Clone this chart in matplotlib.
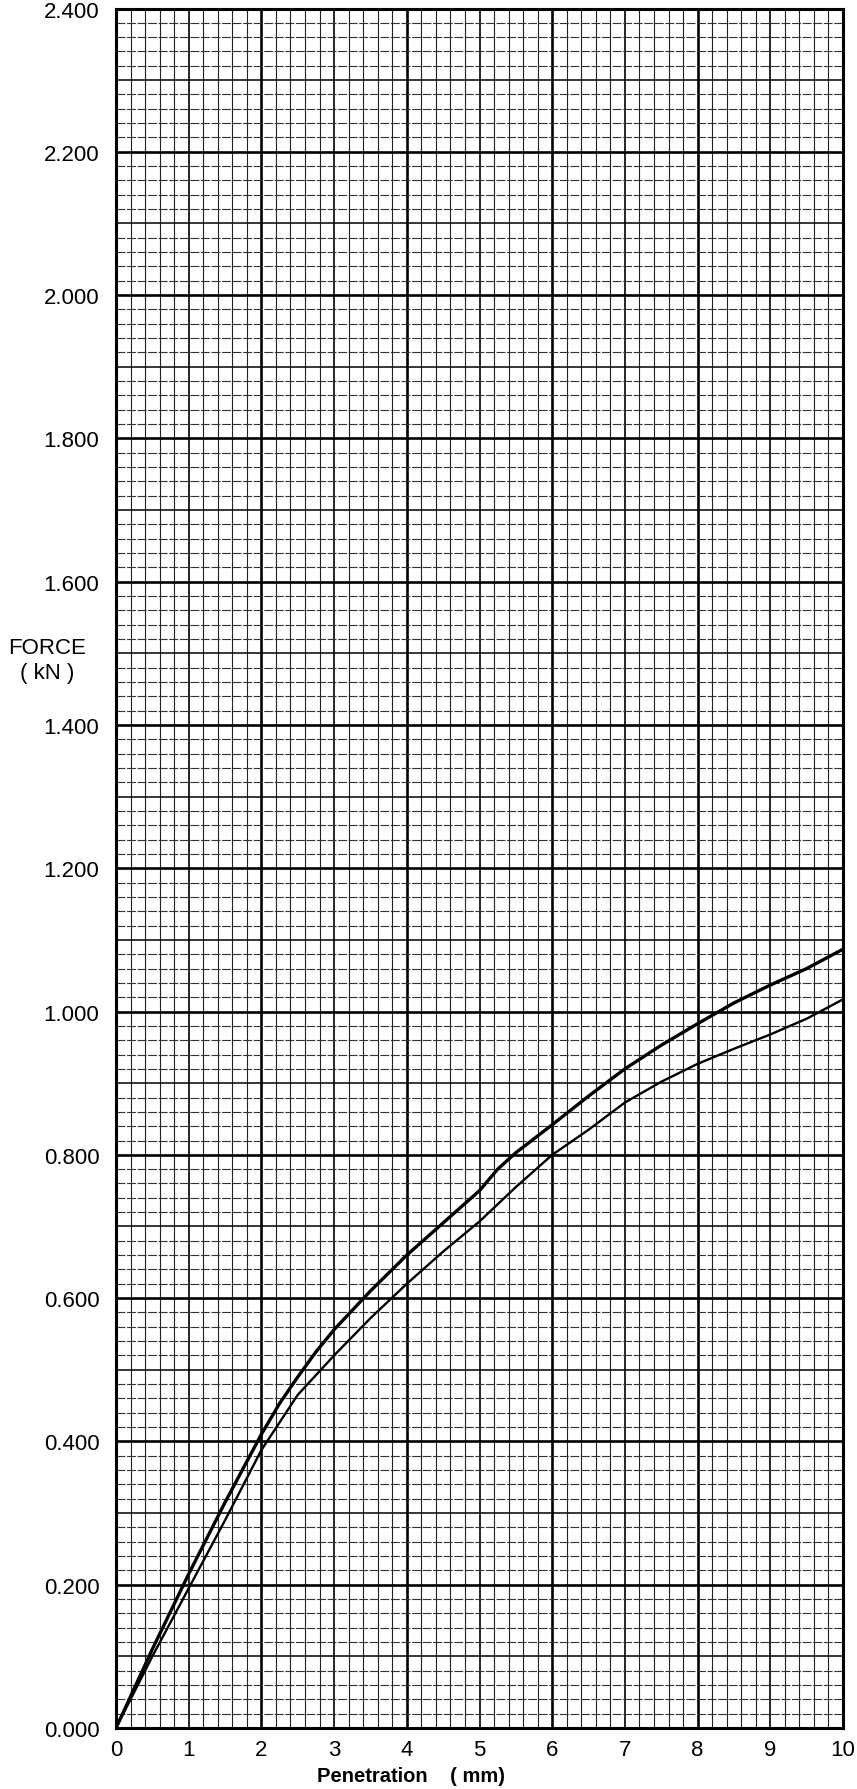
import numpy as np
import matplotlib
matplotlib.use('Agg')
import matplotlib.pyplot as plt

# curves (penetration mm, force kN)
pen_upper = [0.0, 0.5, 1.0, 1.5, 2.0, 2.25, 2.5, 2.75, 3.0, 3.5, 4.0, 4.5, 5.0, 5.25, 5.5, 6.0, 6.5, 7.0, 7.5, 8.0, 8.5, 9.0, 9.5, 10.0]
force_upper = [0.0, 0.11, 0.215, 0.315, 0.41, 0.453, 0.49, 0.525, 0.556, 0.61, 0.66, 0.705, 0.75, 0.78, 0.803, 0.842, 0.882, 0.92, 0.953, 0.983, 1.012, 1.037, 1.06, 1.087]

pen_lower = [0.0, 0.5, 1.0, 1.5, 2.0, 2.5, 3.0, 3.5, 4.0, 4.5, 5.0, 5.5, 6.0, 6.5, 7.0, 7.5, 8.0, 8.5, 9.0, 9.5, 10.0]
force_lower = [0.0, 0.1, 0.195, 0.29, 0.388, 0.465, 0.52, 0.572, 0.62, 0.665, 0.707, 0.755, 0.8, 0.835, 0.873, 0.902, 0.927, 0.948, 0.968, 0.99, 1.017]

x_ticks = list(range(0, 11))
y_ticks = [0.0, 0.2, 0.4, 0.6, 0.8, 1.0, 1.2, 1.4, 1.6, 1.8, 2.0, 2.2, 2.4]
y_ticklabels = ['%.3f' % v for v in y_ticks]

plt.rcParams['font.family'] = ['Liberation Sans', 'DejaVu Sans']
plt.rcParams['font.size'] = 16

fig = plt.figure(figsize=(8.57, 17.9), dpi=100)
ax = fig.add_axes([116/857, 1-1729/1790, (843-116)/857, (1729-9.5)/1790])

ax.set_xlim(0, 10)
ax.set_ylim(0, 2.4)

# graph paper grid: fine 0.2 mm / 0.02 kN, medium 1 mm / 0.1 kN, heavy 2 mm / 0.2 kN
for xv in np.arange(0, 10.001, 0.2):
	k = int(round(xv * 5))
	if k % 10 == 0:
		ax.axvline(xv, color='black', lw=1.9, zorder=1)
	elif k % 5 == 0:
		ax.axvline(xv, color='black', lw=1.2, zorder=1)
	else:
		ax.axvline(xv, color='#222222', lw=0.8, zorder=1)
for yv in np.arange(0, 2.4001, 0.02):
	k = int(round(yv * 50))
	if k % 10 == 0:
		ax.axhline(yv, color='black', lw=1.9, zorder=1)
	elif k % 5 == 0:
		ax.axhline(yv, color='black', lw=1.1, zorder=1)
	else:
		ax.axhline(yv, color='#333333', lw=0.8, ls=(0, (8, 1.5)), zorder=1)

ax.plot(pen_upper, force_upper, color='black', lw=2.4, zorder=3, solid_joinstyle='round')
ax.plot(pen_lower, force_lower, color='black', lw=1.7, zorder=3, solid_joinstyle='round')

for s in ax.spines.values():
	s.set_linewidth(2.2)
	s.set_color('black')

ax.set_xticks(x_ticks)
ax.set_yticks(y_ticks)
ax.set_yticklabels(y_ticklabels)
ax.tick_params(axis='both', length=0, labelsize=16)
ax.tick_params(axis='x', pad=8)
ax.tick_params(axis='y', pad=12)

ax.set_xlabel('Penetration    ( mm)', fontsize=14.5, fontweight='bold', va='center')
ax.xaxis.set_label_coords((411-116)/727, -48/1720)

fig.text(47/857, 1-661/1790, 'FORCE\n( kN )', ha='center', va='center', multialignment='center', fontsize=16, linespacing=1.2)

fig.savefig('out.png', dpi=100)
